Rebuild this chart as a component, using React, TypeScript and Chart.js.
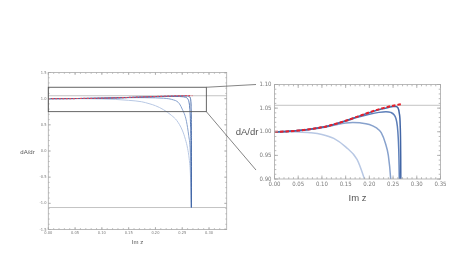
import React, { useEffect, useRef } from "react";
import { Chart, registerables } from "chart.js";
Chart.register(...registerables);

// ---------- data ----------
const envelopeX = [0, 0.025, 0.05, 0.075, 0.1, 0.125, 0.15, 0.175, 0.2, 0.225, 0.25, 0.269];
const envelopeY = [1.0, 1.0006, 1.0025, 1.0055, 1.0094, 1.0155, 1.0232, 1.032, 1.041, 1.049, 1.0552, 1.0585];

const curveAX = [0, 0.025, 0.05, 0.075, 0.1, 0.125, 0.15, 0.175, 0.2, 0.225, 0.24, 0.25, 0.256, 0.26, 0.263, 0.265, 0.266, 0.2665, 0.267, 0.2672];
const curveAY = [1.0, 1.0006, 1.0025, 1.0055, 1.0094, 1.0155, 1.0232, 1.032, 1.0405, 1.048, 1.0515, 1.0535, 1.0535, 1.051, 1.04, 1.015, 0.96, 0.85, 0.3, -1.08];

const curveBX = [0, 0.025, 0.05, 0.075, 0.1, 0.125, 0.15, 0.175, 0.2, 0.22, 0.235, 0.245, 0.252, 0.256, 0.259, 0.261, 0.2625, 0.264, 0.2655, 0.2665, 0.267];
const curveBY = [1.0, 1.0006, 1.0025, 1.0055, 1.0093, 1.0152, 1.0225, 1.0305, 1.037, 1.041, 1.0425, 1.041, 1.036, 1.028, 1.012, 0.985, 0.94, 0.82, 0.5, -0.1, -1.08];

const curveCX = [0, 0.025, 0.05, 0.075, 0.1, 0.125, 0.15, 0.165, 0.18, 0.2, 0.215, 0.225, 0.234, 0.24, 0.245, 0.25, 0.255, 0.258, 0.262, 0.265, 0.2665, 0.267];
const curveCY = [1.0, 1.0005, 1.0022, 1.0048, 1.0082, 1.0135, 1.0185, 1.0197, 1.019, 1.0155, 1.008, 0.998, 0.975, 0.95, 0.9, 0.8, 0.68, 0.56, 0.3, 0.0, -0.5, -1.08];

const curveDX = [0, 0.025, 0.05, 0.075, 0.1, 0.125, 0.15, 0.174, 0.188, 0.2, 0.215, 0.23, 0.24, 0.25, 0.256, 0.26, 0.263, 0.2655, 0.267];
const curveDY = [1.0, 0.9999, 0.9995, 0.998, 0.9944, 0.986, 0.968, 0.9415, 0.905, 0.865, 0.79, 0.68, 0.58, 0.4, 0.22, 0.05, -0.15, -0.5, -1.08];

const refLevel = 1.056;
const floorLevel = -1.08;

const leftXTicks = [0, 0.05, 0.1, 0.15, 0.2, 0.25, 0.3];
const leftYTicks = [-1.5, -1.0, -0.5, 0.0, 0.5, 1.0, 1.5];
const rightXTicks = [0, 0.05, 0.1, 0.15, 0.2, 0.25, 0.3, 0.35];
const rightYTicks = [0.9, 0.95, 1.0, 1.05, 1.1];

const zoomBoxX = [0, 0.295];
const zoomBoxY = [0.752, 1.218];
const connectorEndX = -0.039;
const connectorEndY = [1.1, 0.919];

const xTitle = "Im z";
const yTitle = "dA/dr";

// ---------- styling ----------
const FONT = "'Liberation Sans', Arial, sans-serif";
const TICK_FONT = "'Liberation Sans Narrow', 'DejaVu Sans Condensed', 'Liberation Sans', sans-serif";
const TICK_COLOR = "#7a7a7a";
const FRAME_COLOR = "#a8a8a8";
const RED = "#e8202a";
const BLUES = ["#4266a6", "#5d7fb9", "#88a2cd", "#b8c8e4"];

const pts = (xs: number[], ys: number[]) => xs.map((x, i) => ({ x, y: ys[i] }));

function buildDatasets(xMin: number, xMax: number, small: boolean) {
  const w = small ? 1 : 1.5;
  return [
    {
      data: pts(envelopeX, envelopeY),
      borderColor: small ? "#ec4a58" : RED,
      borderWidth: small ? 1.2 : 2,
      borderDash: small ? [2, 1.5] : [3.5, 2],
      cubicInterpolationMode: "monotone" as const,
    },
    { data: pts(curveAX, curveAY), borderColor: BLUES[0], borderWidth: w, cubicInterpolationMode: "monotone" as const },
    { data: pts(curveBX, curveBY), borderColor: BLUES[1], borderWidth: w, cubicInterpolationMode: "monotone" as const },
    { data: pts(curveCX, curveCY), borderColor: BLUES[2], borderWidth: w, cubicInterpolationMode: "monotone" as const },
    { data: pts(curveDX, curveDY), borderColor: BLUES[3], borderWidth: w, cubicInterpolationMode: "monotone" as const },
    {
      data: [
        { x: xMin, y: refLevel },
        { x: xMax, y: refLevel },
      ],
      borderColor: "#c4c4c4",
      borderWidth: 1,
    },
    {
      data: [
        { x: xMin, y: floorLevel },
        { x: xMax, y: floorLevel },
      ],
      borderColor: "#c4c4c4",
      borderWidth: 1,
    },
  ];
}

type FrameOpts = {
  xMajor: number[];
  yMajor: number[];
  xMinorStep: number;
  yMinorStep: number;
  majLen: number;
  minLen: number;
  titleSize: number;
  yTitleDx: number;
  xTitleDy: number;
};

function framePlugin(id: string, o: FrameOpts) {
  return {
    id,
    afterDatasetsDraw(chart: any) {
      const { ctx, chartArea: a, scales } = chart;
      const xs = scales.x;
      const ys = scales.y;
      ctx.save();
      ctx.strokeStyle = FRAME_COLOR;
      ctx.lineWidth = 0.8;
      ctx.strokeRect(a.left, a.top, a.right - a.left, a.bottom - a.top);
      const xt = (v: number, len: number) => {
        const px = xs.getPixelForValue(v);
        if (px < a.left - 0.5 || px > a.right + 0.5) return;
        ctx.beginPath();
        ctx.moveTo(px, a.bottom);
        ctx.lineTo(px, a.bottom - len);
        ctx.moveTo(px, a.top);
        ctx.lineTo(px, a.top + len);
        ctx.stroke();
      };
      const yt = (v: number, len: number) => {
        const py = ys.getPixelForValue(v);
        if (py < a.top - 0.5 || py > a.bottom + 0.5) return;
        ctx.beginPath();
        ctx.moveTo(a.left, py);
        ctx.lineTo(a.left + len, py);
        ctx.moveTo(a.right, py);
        ctx.lineTo(a.right - len, py);
        ctx.stroke();
      };
      const nx = Math.floor((xs.max - xs.min) / o.xMinorStep + 1e-6);
      for (let i = 0; i <= nx; i++) xt(xs.min + i * o.xMinorStep, o.minLen);
      const ny = Math.floor((ys.max - ys.min) / o.yMinorStep + 1e-6);
      for (let i = 0; i <= ny; i++) yt(ys.min + i * o.yMinorStep, o.minLen);
      o.xMajor.forEach((v) => xt(v, o.majLen));
      o.yMajor.forEach((v) => yt(v, o.majLen));
      ctx.restore();
    },
    afterDraw(chart: any) {
      const { ctx, chartArea: a } = chart;
      ctx.save();
      ctx.fillStyle = "#555";
      ctx.font = `${o.titleSize}px ${FONT}`;
      ctx.textAlign = "center";
      ctx.textBaseline = "middle";
      ctx.fillText(yTitle, a.left - o.yTitleDx, (a.top + a.bottom) / 2 + 1);
      ctx.fillText(xTitle, (a.left + a.right) / 2, a.bottom + o.xTitleDy);
      ctx.restore();
    },
  };
}

function axis(
  min: number,
  max: number,
  ticks: number[],
  decimals: number,
  size: number,
  pad: number,
  horizontal: boolean,
  boxSize: number
) {
  return {
    type: "linear" as const,
    min,
    max,
    afterFit: (s: any) => {
      if (horizontal) s.height = boxSize;
      else s.width = boxSize;
    },
    afterBuildTicks: (s: any) => {
      s.ticks = ticks.map((v) => ({ value: v }));
    },
    ticks: {
      callback: (v: any) => Number(v).toFixed(decimals),
      font: { size, family: TICK_FONT },
      color: TICK_COLOR,
      padding: pad,
      maxRotation: 0,
      autoSkip: false,
    },
    grid: { display: false, drawTicks: false },
    border: { display: false },
  };
}

export default function App() {
  const leftRef = useRef<HTMLCanvasElement>(null);
  const rightRef = useRef<HTMLCanvasElement>(null);

  useEffect(() => {
    const leftXMax = 0.333;
    const left = new Chart(leftRef.current as HTMLCanvasElement, {
      type: "line",
      data: { datasets: buildDatasets(0, leftXMax, true) as any },
      options: {
        responsive: false,
        animation: false,
        parsing: false as any,
        layout: { padding: { left: 48.3 - 20, top: 72.5, right: 454 - 226.7, bottom: 255 - 229.5 - 14 } },
        elements: { point: { radius: 0 } },
        plugins: { legend: { display: false }, tooltip: { enabled: false }, title: { display: false } },
        scales: {
          x: axis(0, leftXMax, leftXTicks, 2, 4, 1.5, true, 14),
          y: axis(-1.5, 1.5, leftYTicks, 1, 4, 1.8, false, 20),
        } as any,
      },
      plugins: [
        framePlugin("frameL", {
          xMajor: leftXTicks,
          yMajor: leftYTicks,
          xMinorStep: 0.01,
          yMinorStep: 0.1,
          majLen: 2.5,
          minLen: 1.3,
          titleSize: 6,
          yTitleDx: 20.8,
          xTitleDy: 13,
        }),
        {
          id: "zoomBox",
          afterDatasetsDraw(chart: any) {
            const { ctx, scales } = chart;
            const x1 = scales.x.getPixelForValue(zoomBoxX[0]);
            const x2 = scales.x.getPixelForValue(zoomBoxX[1]);
            const y1 = scales.y.getPixelForValue(zoomBoxY[1]);
            const y2 = scales.y.getPixelForValue(zoomBoxY[0]);
            ctx.save();
            ctx.strokeStyle = "#555";
            ctx.lineWidth = 0.9;
            ctx.strokeRect(x1, y1, x2 - x1, y2 - y1);
            ctx.restore();
          },
        },
      ],
    });

    const right = new Chart(rightRef.current as HTMLCanvasElement, {
      type: "line",
      data: { datasets: buildDatasets(0, 0.35, false) as any },
      options: {
        responsive: false,
        animation: false,
        parsing: false as any,
        layout: { padding: { left: 274.5 - 24, top: 84.5, right: 454 - 440.5, bottom: 255 - 179 - 14 } },
        elements: { point: { radius: 0 } },
        plugins: { legend: { display: false }, tooltip: { enabled: false }, title: { display: false } },
        scales: {
          x: axis(0, 0.35, rightXTicks, 2, 6, 1.5, true, 14),
          y: axis(0.9, 1.1, rightYTicks, 2, 6, 3, false, 24),
        } as any,
      },
      plugins: [
        framePlugin("frameR", {
          xMajor: rightXTicks,
          yMajor: rightYTicks,
          xMinorStep: 0.01,
          yMinorStep: 0.01,
          majLen: 3.5,
          minLen: 1.8,
          titleSize: 9.5,
          yTitleDx: 27.5,
          xTitleDy: 19,
        }),
        {
          id: "connectors",
          afterDraw(chart: any) {
            const { ctx, scales } = chart;
            const ls = left.scales as any;
            const sx = ls.x.getPixelForValue(zoomBoxX[1]);
            const syTop = ls.y.getPixelForValue(zoomBoxY[1]);
            const syBot = ls.y.getPixelForValue(zoomBoxY[0]);
            const ex = scales.x.getPixelForValue(connectorEndX);
            const eyTop = scales.y.getPixelForValue(connectorEndY[0]);
            const eyBot = scales.y.getPixelForValue(connectorEndY[1]);
            ctx.save();
            ctx.strokeStyle = "#666";
            ctx.lineWidth = 0.8;
            ctx.beginPath();
            ctx.moveTo(sx, syTop);
            ctx.lineTo(ex, eyTop);
            ctx.moveTo(sx, syBot);
            ctx.lineTo(ex, eyBot);
            ctx.stroke();
            ctx.restore();
          },
        },
      ],
    });

    return () => {
      right.destroy();
      left.destroy();
    };
  }, []);

  return (
    <div style={{ position: "absolute", left: 0, top: 0, width: 454, height: 255, background: "#fff" }}>
      <canvas ref={leftRef} width={454} height={255} style={{ position: "absolute", left: 0, top: 0 }} />
      <canvas ref={rightRef} width={454} height={255} style={{ position: "absolute", left: 0, top: 0 }} />
    </div>
  );
}
